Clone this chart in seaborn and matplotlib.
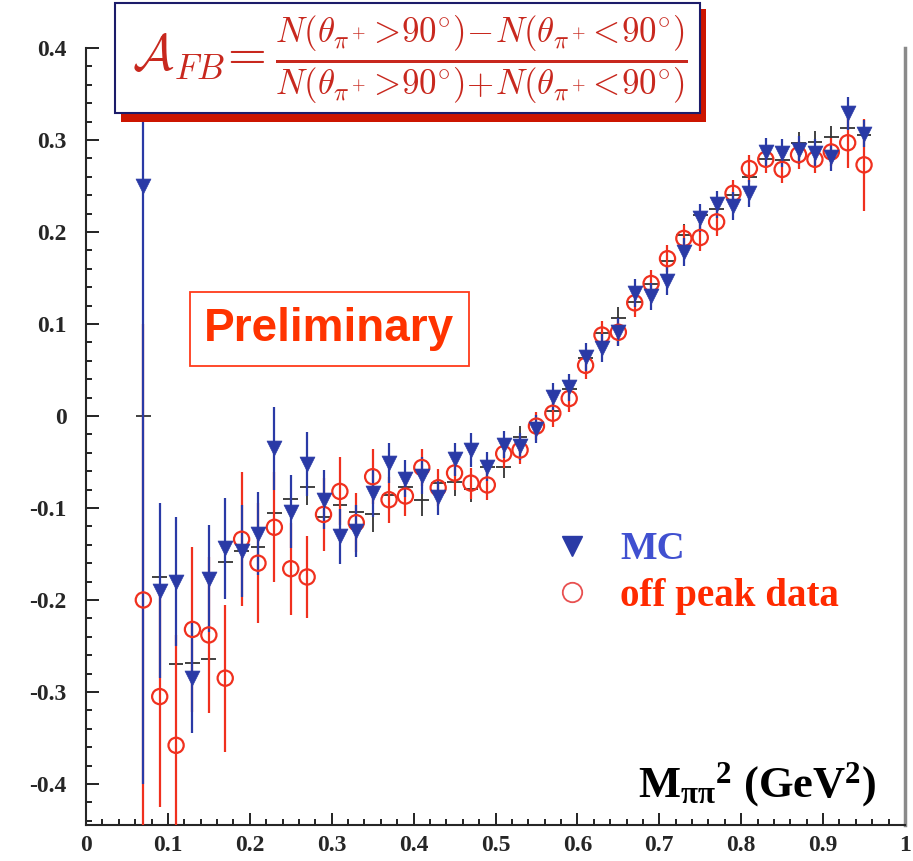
import matplotlib
matplotlib.use("Agg")
import matplotlib.pyplot as plt
import seaborn as sns
import pandas as pd
from matplotlib.lines import Line2D
from matplotlib.patches import Rectangle
from matplotlib.ticker import MultipleLocator, FuncFormatter

# bin centres of M_pipi^2 (GeV^2)
m2 = [0.07, 0.09, 0.11, 0.13, 0.15, 0.17, 0.19, 0.21, 0.23, 0.25,
      0.27, 0.29, 0.31, 0.33, 0.35, 0.37, 0.39, 0.41, 0.43, 0.45,
      0.47, 0.49, 0.51, 0.53, 0.55, 0.57, 0.59, 0.61, 0.63, 0.65,
      0.67, 0.69, 0.71, 0.73, 0.75, 0.77, 0.79, 0.81, 0.83, 0.85,
      0.87, 0.89, 0.91, 0.93, 0.95]

# MC (blue triangles)
mc = [0.250, -0.190, -0.180, -0.285, -0.177, -0.144, -0.147, -0.128, -0.035, -0.104,
      -0.052, -0.091, -0.131, -0.125, -0.084, -0.051, -0.068, -0.065, -0.088, -0.047,
      -0.037, -0.055, -0.031, -0.033, -0.014, 0.021, 0.031, 0.064, 0.074, 0.091,
      0.134, 0.130, 0.147, 0.178, 0.215, 0.230, 0.228, 0.242, 0.287, 0.286,
      0.289, 0.286, 0.281, 0.329, 0.307]
mc_err = [0.65, 0.095, 0.07, 0.06, 0.058, 0.055, 0.05, 0.045, 0.045, 0.04,
          0.035, 0.032, 0.03, 0.028, 0.026, 0.022, 0.02, 0.02, 0.02, 0.018,
          0.018, 0.016, 0.015, 0.015, 0.015, 0.015, 0.015, 0.015, 0.015, 0.015,
          0.015, 0.015, 0.015, 0.015, 0.015, 0.015, 0.015, 0.015, 0.015, 0.015,
          0.015, 0.015, 0.015, 0.018, 0.015]

# off peak data (red open circles)
offpeak = [-0.200, -0.305, -0.358, -0.232, -0.238, -0.285, -0.134, -0.160, -0.121, -0.166,
           -0.175, -0.107, -0.082, -0.116, -0.066, -0.091, -0.087, -0.056, -0.078, -0.062,
           -0.073, -0.075, -0.041, -0.037, -0.011, 0.003, 0.019, 0.055, 0.088, 0.091,
           0.123, 0.144, 0.171, 0.193, 0.194, 0.211, 0.242, 0.269, 0.279, 0.268,
           0.284, 0.279, 0.287, 0.297, 0.273]
offpeak_err = [0.30, 0.12, 0.12, 0.09, 0.085, 0.08, 0.073, 0.065, 0.06, 0.05,
               0.045, 0.04, 0.037, 0.032, 0.03, 0.025, 0.022, 0.02, 0.02, 0.018,
               0.017, 0.016, 0.015, 0.015, 0.015, 0.015, 0.015, 0.015, 0.015, 0.015,
               0.015, 0.015, 0.015, 0.015, 0.015, 0.015, 0.015, 0.015, 0.015, 0.015,
               0.015, 0.015, 0.015, 0.027, 0.05]

# third sample (black crosses, not in legend)
cross = [0.000, -0.175, -0.270, -0.268, -0.264, -0.159, -0.147, -0.142, -0.105, -0.090,
         -0.077, -0.110, -0.097, -0.104, -0.106, -0.086, -0.077, -0.091, -0.073, -0.072,
         -0.079, -0.055, -0.055, -0.023, -0.008, 0.005, 0.029, 0.063, 0.090, 0.106,
         0.124, 0.144, 0.168, 0.197, 0.218, 0.225, 0.240, 0.260, 0.279, 0.278,
         0.297, 0.298, 0.303, 0.313, 0.305]
cross_err = [0.40, 0.05, 0.04, 0.04, 0.035, 0.035, 0.03, 0.03, 0.03, 0.025,
             0.02, 0.02, 0.02, 0.02, 0.02, 0.02, 0.018, 0.018, 0.015, 0.015,
             0.015, 0.014, 0.012, 0.012, 0.012, 0.012, 0.012, 0.012, 0.012, 0.012,
             0.012, 0.012, 0.012, 0.012, 0.012, 0.012, 0.012, 0.012, 0.012, 0.012,
             0.012, 0.012, 0.012, 0.012, 0.012]
bin_half = 0.009

x_ticks = [0, 0.1, 0.2, 0.3, 0.4, 0.5, 0.6, 0.7, 0.8, 0.9, 1]
y_ticks = [-0.4, -0.3, -0.2, -0.1, 0, 0.1, 0.2, 0.3, 0.4]

df = pd.DataFrame({"m2": m2, "mc": mc, "offpeak": offpeak, "cross": cross})

sns.set_style("ticks")
plt.rcParams["font.family"] = ["Liberation Serif", "DejaVu Serif"]
plt.rcParams["mathtext.fontset"] = "custom"
plt.rcParams["mathtext.rm"] = "Liberation Serif:bold"
plt.rcParams["mathtext.it"] = "Liberation Serif:bold"
plt.rcParams["mathtext.bf"] = "Liberation Serif:bold"

BLUE = "#2a3aa6"
RED = "#f0301e"
BLACK = "#333333"

fig = plt.figure(figsize=(9.13, 8.61), dpi=100)
ax = fig.add_axes([86 / 913, 1 - 825 / 861, 819 / 913, 777 / 861])

# error bars
ax.errorbar(df["m2"], df["cross"], yerr=cross_err, xerr=bin_half, fmt="none",
            ecolor=BLACK, elinewidth=1.3, zorder=2)
ax.errorbar(df["m2"], df["offpeak"], yerr=offpeak_err, fmt="none",
            ecolor=RED, elinewidth=1.6, zorder=3)
ax.errorbar(df["m2"], df["mc"], yerr=mc_err, fmt="none",
            ecolor=BLUE, elinewidth=1.6, zorder=4)

# markers
sns.scatterplot(data=df, x="m2", y="offpeak", ax=ax, marker="o", s=120,
                facecolor="none", edgecolor=RED, linewidth=1.6, zorder=5)
sns.scatterplot(data=df, x="m2", y="mc", ax=ax, marker="v", s=115,
                color=BLUE, edgecolor=BLUE, linewidth=0.5, zorder=6)

ax.set_xlim(0, 1)
ax.set_ylim(-0.4446, 0.4)
ax.set_xlabel("")
ax.set_ylabel("")

ax.xaxis.set_minor_locator(MultipleLocator(0.02))
ax.yaxis.set_minor_locator(MultipleLocator(0.02))
ax.set_xticks(x_ticks)
ax.set_yticks(y_ticks)
fmt = FuncFormatter(lambda v, p: "0" if abs(v) < 1e-9 else ("1" if abs(v - 1) < 1e-9 else f"{v:.1f}"))
ax.xaxis.set_major_formatter(fmt)
ax.yaxis.set_major_formatter(fmt)
ax.tick_params(which="both", direction="in", top=False, right=False, width=1.4, color="#222222")
ax.tick_params(which="major", length=9)
ax.tick_params(which="minor", length=4.5)
ax.tick_params(axis="y", pad=14)
ax.tick_params(axis="x", pad=7)
for lab in ax.get_xticklabels() + ax.get_yticklabels():
    lab.set_fontweight("bold")
    lab.set_fontsize(17)

ax.spines["top"].set_visible(False)
ax.spines["left"].set_linewidth(1.5)
ax.spines["bottom"].set_linewidth(1.5)
ax.spines["right"].set_color("#8a8a8a")
ax.spines["right"].set_linewidth(2.5)

# formula box with red drop shadow
fig.add_artist(Rectangle((121 / 913, 1 - 122 / 861), 585 / 913, 113 / 861,
                         transform=fig.transFigure, facecolor="#cc1500",
                         edgecolor="none", zorder=10))
fig.add_artist(Rectangle((115 / 913, 1 - 113 / 861), 585 / 913, 110 / 861,
                         transform=fig.transFigure, facecolor="white",
                         edgecolor="#1c1c6a", linewidth=1.5, zorder=11))
fig.text(410 / 913, 1 - 60 / 861,
         r"$\mathcal{A}_{FB}\!=\frac{N(\theta_{\pi^+}\!>\!90^{\circ})\!-\!N(\theta_{\pi^+}\!<\!90^{\circ})}"
         r"{N(\theta_{\pi^+}\!>\!90^{\circ})\!+\!N(\theta_{\pi^+}\!<\!90^{\circ})}$",
         math_fontfamily="cm", fontsize=36, color="#c8281e",
         ha="center", va="center", zorder=12)

# Preliminary label
ax.text(0.297, 0.0946, "Preliminary", transform=ax.transData,
        family="Liberation Sans", fontweight="bold", fontsize=33, color="#ff3300",
        ha="center", va="center", zorder=7,
        bbox=dict(boxstyle="square,pad=0.32", facecolor="white", edgecolor="#ff3a1a", linewidth=1.3))

# legend
handles = [Line2D([], [], linestyle="none", marker="v", markersize=14,
                  color=BLUE, markeredgecolor=BLUE),
           Line2D([], [], linestyle="none", marker="o", markersize=14,
                  markerfacecolor="none", markeredgecolor="#e85050", markeredgewidth=1.3)]
ax.legend(handles, ["MC", "off peak data"], loc="center left",
          bbox_to_anchor=(553 / 913, 1 - 573 / 861), bbox_transform=fig.transFigure,
          frameon=False, borderpad=0, borderaxespad=0, handlelength=1.0,
          labelcolor=["#4050d0", "#ff2a00"], handletextpad=0.72, labelspacing=0.25,
          prop={"family": "Liberation Serif", "weight": "bold", "size": 28})

# axis title inside the frame
ax.text(0.9646, 0.036, r"$M_{\pi\pi}{}^{2}$ (GeV$^{2}$)", transform=ax.transAxes,
        fontsize=32, fontweight="bold", ha="right", va="baseline", color="black",
        math_fontfamily="custom", zorder=7)

plt.savefig("out.png", dpi=100)
